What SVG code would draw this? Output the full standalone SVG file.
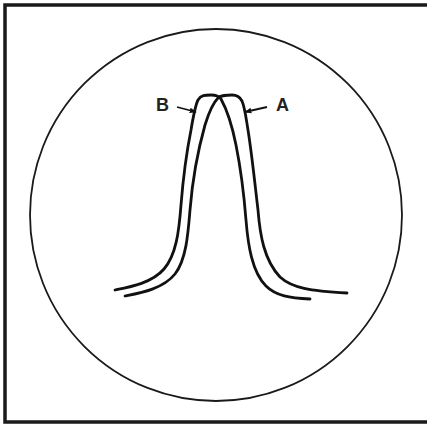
<svg xmlns="http://www.w3.org/2000/svg" width="427" height="430" viewBox="0 0 427 430">
<defs>
<style>
.frame{fill:none;stroke:#1a1a1a;stroke-width:3.5}
.circ{fill:none;stroke:#1a1a1a;stroke-width:1.8}
.trace{fill:none;stroke:#111;stroke-width:2.8;stroke-linecap:round;stroke-linejoin:round}
.arrow{fill:none;stroke:#111;stroke-width:1.8}
.lbl{font-family:"Liberation Sans",Arial,sans-serif;font-weight:bold;font-size:18px;fill:#222}
</style>
<marker id="ah" viewBox="0 0 10 10" refX="9" refY="5" markerWidth="7" markerHeight="7" orient="auto" markerUnits="userSpaceOnUse">
<path d="M0,1 L10,5 L0,9 Z" fill="#111"/>
</marker>
</defs>
<rect width="427" height="430" fill="#fff"/>
<path class="frame" d="M428,5 H5 V422 H428"/>
<circle class="circ" cx="216" cy="215" r="186"/>
<g id="traceB">
<path class="trace" d="M115,290 C130,287 152,283 164,269 C176,255 179,232 181,205 C183,180 187,150 191,130 C193,118 195,106 198,100 C201,95 205,95 211,95 C216,95 219,96 221,99 C226,108 232,125 236,145 C241,170 244,195 246,220 C248,245 252,272 266,286 C276,296 290,298 310,299"/>
</g>
<g id="traceA">
<path class="trace" d="M125,296 C140,293 163,289 175,274 C186,260 188,235 190,210 C192,185 198,150 205,125 C209,112 214,102 218,98 C221,95 226,95 232,95 C237,95 240,97 242,101 C245,108 246,118 248,130 C252,155 255,185 258,210 C260,235 264,260 280,277 C292,288 310,291 347,293"/>
</g>
<g id="connectors">
<line class="arrow" x1="177" y1="107" x2="196" y2="112" marker-end="url(#ah)"/>
<line class="arrow" x1="267" y1="107" x2="245" y2="112" marker-end="url(#ah)"/>
</g>
<g id="labelB"><text class="lbl" x="156" y="111">B</text></g>
<g id="labelA"><text class="lbl" x="276" y="111">A</text></g>
</svg>
